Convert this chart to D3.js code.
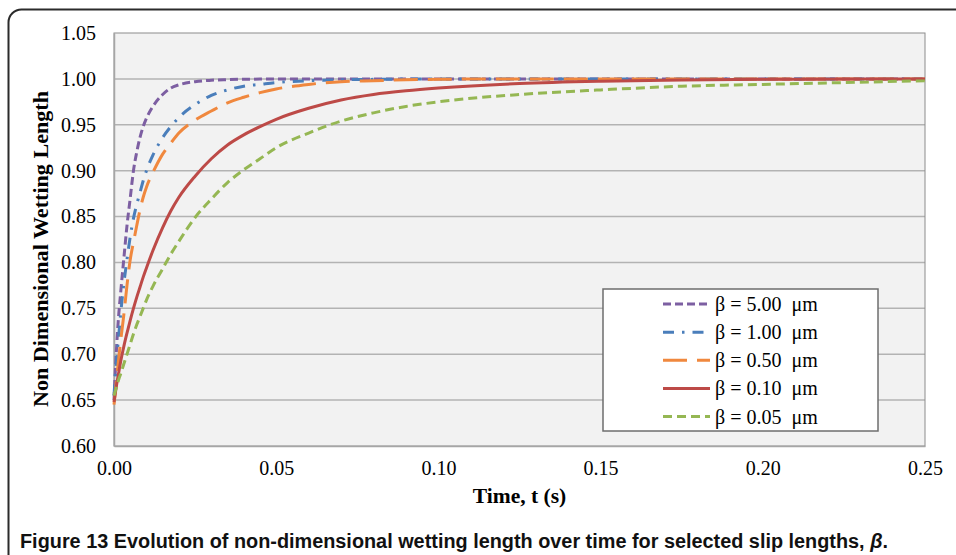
<!DOCTYPE html>
<html>
<head>
<meta charset="utf-8">
<script src="https://cdn.jsdelivr.net/npm/d3@7"></script>
<style>
  html, body { margin: 0; padding: 0; background: #ffffff; }
  svg { display: block; }
</style>
</head>
<body>
<svg id="chart" width="956" height="555"></svg>
<script>
// ---- data ----
const times = [0, 0.0005, 0.001, 0.0015, 0.002, 0.003, 0.004, 0.005, 0.006, 0.007, 0.008, 0.009, 0.010, 0.012, 0.015, 0.0175, 0.02, 0.025, 0.03, 0.035, 0.04, 0.045, 0.05, 0.06, 0.07, 0.08, 0.09, 0.10, 0.125, 0.15, 0.175, 0.20, 0.225, 0.25];

const beta500 = [0.650, 0.688, 0.720, 0.745, 0.765, 0.803, 0.840, 0.870, 0.900, 0.920, 0.936, 0.948, 0.957, 0.970, 0.983, 0.990, 0.9935, 0.997, 0.9985, 0.9992, 0.9996, 0.9998, 1.0, 1.0, 1.0, 1.0, 1.0, 1.0, 1.0, 1.0, 1.0, 1.0, 1.0, 1.0];
const beta100 = [0.655, 0.682, 0.702, 0.722, 0.742, 0.776, 0.803, 0.828, 0.848, 0.863, 0.876, 0.889, 0.900, 0.917, 0.936, 0.948, 0.958, 0.972, 0.982, 0.988, 0.992, 0.994, 0.996, 0.998, 0.999, 0.9995, 0.9998, 1.0, 1.0, 1.0, 1.0, 1.0, 1.0, 1.0];
const beta050 = [0.645, 0.662, 0.680, 0.697, 0.713, 0.742, 0.775, 0.803, 0.822, 0.840, 0.857, 0.871, 0.882, 0.898, 0.918, 0.930, 0.941, 0.955, 0.965, 0.974, 0.980, 0.985, 0.989, 0.994, 0.997, 0.998, 0.999, 0.9995, 1.0, 1.0, 1.0, 1.0, 1.0, 1.0];
const beta010 = [0.648, 0.660, 0.671, 0.681, 0.691, 0.708, 0.723, 0.737, 0.750, 0.762, 0.773, 0.784, 0.794, 0.813, 0.838, 0.856, 0.871, 0.894, 0.913, 0.928, 0.939, 0.948, 0.956, 0.968, 0.977, 0.983, 0.987, 0.990, 0.995, 0.9975, 0.9988, 0.9995, 0.9998, 1.0];
const beta005 = [0.655, 0.661, 0.667, 0.673, 0.678, 0.689, 0.700, 0.711, 0.722, 0.732, 0.741, 0.750, 0.759, 0.774, 0.793, 0.809, 0.823, 0.849, 0.869, 0.887, 0.901, 0.913, 0.925, 0.941, 0.954, 0.963, 0.970, 0.975, 0.983, 0.988, 0.992, 0.994, 0.996, 0.998];

const seriesNames = ["β = 5.00 μm", "β = 1.00 μm", "β = 0.50 μm", "β = 0.10 μm", "β = 0.05 μm"];
const xTicks = [0, 0.05, 0.10, 0.15, 0.20, 0.25];
const yTicks = [0.60, 0.65, 0.70, 0.75, 0.80, 0.85, 0.90, 0.95, 1.00, 1.05];

const xTitle = "Time, t (s)";
const yTitle = "Non Dimensional Wetting Length";

// ---- styling ----
const styles = [
  { color: "#7d5fa2", dash: "8,4" },
  { color: "#4a7ebb", dash: "11,8,2.5,8" },
  { color: "#f0883e", dash: "24,10" },
  { color: "#bd4a47", dash: null },
  { color: "#95b753", dash: "9,5" }
];
const seriesValues = [beta500, beta100, beta050, beta010, beta005];

const svg = d3.select("#chart");
const serif = "'Liberation Serif', 'Times New Roman', serif";

// outer rounded frame
svg.append("rect")
  .attr("x", 8.5).attr("y", 9.5)
  .attr("width", 1000).attr("height", 700)
  .attr("rx", 13).attr("ry", 13)
  .attr("fill", "none").attr("stroke", "#2b2b2b").attr("stroke-width", 2);

const plot = { left: 114, right: 925, top: 33, bottom: 446 };

const x = d3.scaleLinear().domain([0, 0.25]).range([plot.left, plot.right]);
const y = d3.scaleLinear().domain([0.60, 1.05]).range([plot.bottom, plot.top]);

// plot background
svg.append("rect")
  .attr("x", plot.left).attr("y", plot.top)
  .attr("width", plot.right - plot.left).attr("height", plot.bottom - plot.top)
  .attr("fill", "#f2f2f2");

// gridlines
svg.append("g").selectAll("line")
  .data(yTicks.filter(d => d > 0.6 && d < 1.05))
  .join("line")
  .attr("x1", plot.left).attr("x2", plot.right)
  .attr("y1", d => y(d)).attr("y2", d => y(d))
  .attr("stroke", "#b3b3b3").attr("stroke-width", 1.5);

// plot border
svg.append("rect")
  .attr("x", plot.left).attr("y", plot.top)
  .attr("width", plot.right - plot.left).attr("height", plot.bottom - plot.top)
  .attr("fill", "none").attr("stroke", "#8c8c8c").attr("stroke-width", 1);

// axes
const yAxis = d3.axisLeft(y).tickValues(yTicks).tickFormat(d3.format(".2f")).tickSize(0).tickPadding(18);
const gy = svg.append("g").attr("transform", `translate(${plot.left},0)`).call(yAxis);
gy.select(".domain").attr("stroke", "#a6a6a6").attr("stroke-width", 1.5);
gy.selectAll("text").attr("font-family", serif).attr("font-size", "20px").attr("fill", "#000");

const xAxis = d3.axisBottom(x).tickValues(xTicks).tickFormat(d3.format(".2f")).tickSize(0).tickPadding(15);
const gx = svg.append("g").attr("transform", `translate(0,${plot.bottom})`).call(xAxis);
gx.select(".domain").attr("stroke", "#a6a6a6").attr("stroke-width", 1.5);
gx.selectAll("text").attr("font-family", serif).attr("font-size", "20px").attr("fill", "#000");

// series lines
const line = d3.line()
  .x((d, i) => x(times[i]))
  .y(d => y(d))
  .curve(d3.curveMonotoneX);

svg.append("g").selectAll("path")
  .data(seriesValues)
  .join("path")
  .attr("d", d => line(d))
  .attr("fill", "none")
  .attr("stroke", (d, i) => styles[i].color)
  .attr("stroke-width", 3)
  .attr("stroke-dasharray", (d, i) => styles[i].dash);

// axis titles
svg.append("text")
  .attr("x", (plot.left + plot.right) / 2).attr("y", 503)
  .attr("text-anchor", "middle")
  .attr("font-family", serif).attr("font-weight", "bold").attr("font-size", "21.5px")
  .text(xTitle);

svg.append("text")
  .attr("transform", "translate(48,249) rotate(-90)")
  .attr("text-anchor", "middle")
  .attr("font-family", serif).attr("font-weight", "bold").attr("font-size", "22px")
  .attr("textLength", 316).attr("lengthAdjust", "spacingAndGlyphs")
  .text(yTitle);

// legend
const legend = svg.append("g");
legend.append("rect")
  .attr("x", 603).attr("y", 289).attr("width", 275).attr("height", 142)
  .attr("fill", "#ffffff").attr("stroke", "#6e6e6e").attr("stroke-width", 1.5);

const legY = d3.scalePoint().domain(d3.range(seriesNames.length)).range([304, 416.5]);
const items = legend.selectAll("g.item").data(seriesNames).join("g").attr("class", "item");
items.append("line")
  .attr("x1", 663).attr("x2", 710)
  .attr("y1", (d, i) => legY(i)).attr("y2", (d, i) => legY(i))
  .attr("stroke", (d, i) => styles[i].color)
  .attr("stroke-width", 3)
  .attr("stroke-dasharray", (d, i) => styles[i].dash);
items.append("text")
  .attr("x", 715).attr("y", (d, i) => legY(i) + 7)
  .attr("font-family", serif).attr("font-size", "20px")
  .attr("xml:space", "preserve")
  .text(d => d.replace(" μm", "  μm"));

// caption
const cap = svg.append("text")
  .attr("x", 20).attr("y", 548)
  .attr("font-family", "'Liberation Sans', Arial, sans-serif")
  .attr("font-size", "19.5px").attr("font-weight", "bold").attr("fill", "#111")
  .attr("textLength", 868).attr("lengthAdjust", "spacingAndGlyphs");
cap.append("tspan").text("Figure 13 ");
cap.append("tspan").text("Evolution of non-dimensional wetting length over time for selected slip lengths, ");
cap.append("tspan").attr("font-style", "italic").text("β");
cap.append("tspan").text(".");
</script>
</body>
</html>
